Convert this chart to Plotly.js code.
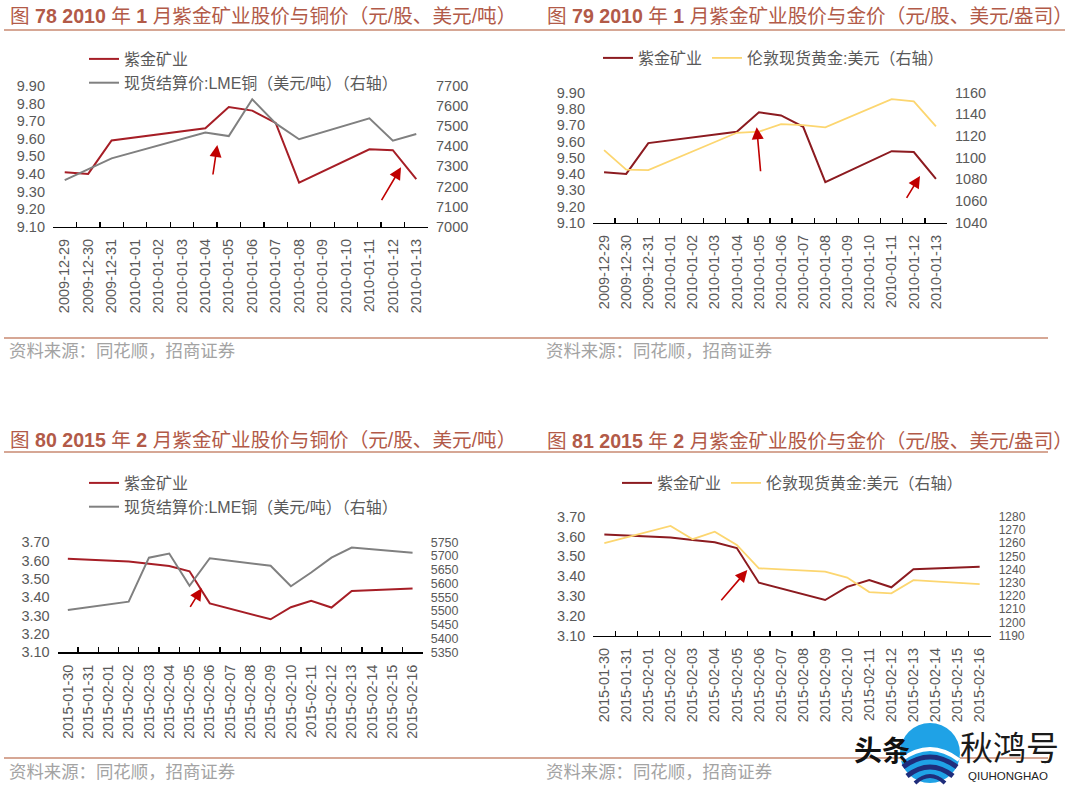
<!DOCTYPE html>
<html><head><meta charset="utf-8">
<script src="https://cdn.plot.ly/plotly-3.0.1.min.js"></script>
<style>html,body{margin:0;padding:0;background:#fff}#chart{width:1080px;height:787px}</style>
</head><body><div id="chart"></div>
<script>
// ---------- data ----------
const dates2010 = ['2009-12-29','2009-12-30','2009-12-31','2010-01-01','2010-01-02','2010-01-03','2010-01-04','2010-01-05','2010-01-06','2010-01-07','2010-01-08','2010-01-09','2010-01-10','2010-01-11','2010-01-12','2010-01-13'];
const zijin2010  = [9.41, 9.40, 9.59, null, null, null, 9.66, 9.78, 9.76, 9.69, 9.35, null, null, 9.54, 9.535, 9.37];
const copper2010 = [7232, 7288, 7340, null, null, null, 7468, 7451, 7634, 7514, 7435, null, null, 7539, 7428, 7461];
const gold2010   = [1107, 1089, 1088.6, null, null, null, 1123, 1124, 1131, 1130, 1128, null, null, 1154, 1152, 1129];

const dates2015 = ['2015-01-30','2015-01-31','2015-02-01','2015-02-02','2015-02-03','2015-02-04','2015-02-05','2015-02-06','2015-02-07','2015-02-08','2015-02-09','2015-02-10','2015-02-11','2015-02-12','2015-02-13','2015-02-14','2015-02-15','2015-02-16'];
const zijin2015  = [3.61, null, null, 3.595, 3.583, 3.571, 3.542, 3.367, null, null, 3.28, 3.346, 3.381, 3.344, 3.435, null, null, 3.448];
const copper2015 = [5504, null, null, 5534, 5694, 5709, 5592, 5692, null, null, 5665, 5590, 5640, 5694, 5731, null, null, 5712];
const gold2015   = [1260, null, null, 1273, 1263, 1268.7, 1258.6, 1241, null, null, 1238.4, 1234, 1223, 1222, 1232, null, null, 1229];

const nameZijin = '紫金矿业';
const nameCopper = '现货结算价:LME铜（美元/吨）（右轴）';
const nameGold = '伦敦现货黄金:美元（右轴）';

const titles = [
  '图 <b>78 2010</b> 年 <b>1</b> 月紫金矿业股价与铜价（元/股、美元/吨）',
  '图 <b>79 2010</b> 年 <b>1</b> 月紫金矿业股价与金价（元/股、美元/盎司）',
  '图 <b>80 2015</b> 年 <b>2</b> 月紫金矿业股价与铜价（元/股、美元/吨）',
  '图 <b>81 2015</b> 年 <b>2</b> 月紫金矿业股价与金价（元/股、美元/盎司）'
];
const sourceText = '资料来源：同花顺，招商证券';

// ---------- styling ----------
const W = 1080, H = 787;
const px = v => v / W;
const py = v => 1 - v / H;
const NUM = 'Liberation Sans, Arial, sans-serif';
const CJK = 'Liberation Sans, Noto Sans CJK SC, sans-serif';
const RED1 = '#a61e26', RED2 = '#8c1b20', GRAY = '#808080', GOLD = '#fcd670';
const TXT = '#595959';
const TITLE_C = '#b25a48', RULE_C = '#c98a72';

function line(x, y, xa, ya, name, color, legend, rank, w) {
  return {x, y, xaxis: xa, yaxis: ya, name, type: 'scatter', mode: 'lines', connectgaps: true,
    line: {color, width: w || 2}, legend, legendrank: rank, hoverinfo: 'skip'};
}
const traces = [
  line(dates2010, zijin2010, 'x', 'y', nameZijin, RED1, 'legend', 1),
  line(dates2010, copper2010, 'x', 'y2', nameCopper, GRAY, 'legend', 2),
  line(dates2010, zijin2010, 'x2', 'y3', nameZijin, RED2, 'legend2', 1),
  line(dates2010, gold2010, 'x2', 'y4', nameGold, GOLD, 'legend2', 2, 1.8),
  line(dates2015, zijin2015, 'x3', 'y5', nameZijin, RED1, 'legend3', 1),
  line(dates2015, copper2015, 'x3', 'y6', nameCopper, GRAY, 'legend3', 2),
  line(dates2015, zijin2015, 'x4', 'y7', nameZijin, RED2, 'legend4', 1),
  line(dates2015, gold2015, 'x4', 'y8', nameGold, GOLD, 'legend4', 2, 1.8)
];

function xAxis(x0, x1, cats, anchor) {
  return {domain: [px(x0), px(x1)], anchor, type: 'category', categoryorder: 'array', categoryarray: cats,
    range: [-0.5, cats.length - 0.5], tickson: 'boundaries', ticks: 'inside', ticklen: 5, tickwidth: 1.3,
    tickcolor: '#000', showline: true, linecolor: '#000', linewidth: 1.5, showgrid: false, zeroline: false,
    tickangle: -90, ticklabelstandoff: 5, tickfont: {family: NUM, size: 14.5, color: TXT}, fixedrange: true};
}
function yLeft(yTop, yBot, lo, hi, anchor) {
  const e = (hi - lo) * 1e-5;
  return {domain: [py(yBot), py(yTop)], anchor, range: [lo - e, hi + e], tick0: lo, dtick: 0.1, tickformat: '.2f',
    showgrid: false, zeroline: false, showline: false, ticks: '', ticklabelstandoff: 7,
    tickfont: {family: NUM, size: 14.5, color: TXT}, fixedrange: true};
}
function yRight(over, anchor, lo, hi, step, fs) {
  const e = (hi - lo) * 1e-5;
  return {overlaying: over, side: 'right', anchor, range: [lo - e, hi + e], tick0: lo, dtick: step,
    showgrid: false, zeroline: false, showline: false, ticks: '', ticklabelstandoff: 7,
    tickfont: {family: NUM, size: fs || 14.5, color: TXT}, fixedrange: true};
}
function legendAt(x, y, orient) {
  return {x: px(x), y: py(y), xanchor: 'left', yanchor: 'top', orientation: orient, bgcolor: 'rgba(0,0,0,0)',
    font: {family: CJK, size: 16, color: TXT}, itemclick: false, itemdoubleclick: false, tracegroupgap: 0};
}

const annotations = [];
[[8, 16], [545, 16], [8, 440], [545, 441]].forEach((p, i) => {
  annotations.push({text: titles[i], xref: 'paper', yref: 'paper', x: px(p[0]), y: py(p[1]),
    xanchor: 'left', yanchor: 'middle', showarrow: false, font: {family: CJK, size: 19.6, color: TITLE_C}});
});
[[7, 351], [544, 351], [7, 772], [544, 772]].forEach(p => {
  annotations.push({text: sourceText, xref: 'paper', yref: 'paper', x: px(p[0]), y: py(p[1]),
    xanchor: 'left', yanchor: 'middle', showarrow: false, font: {family: CJK, size: 17.4, color: '#a3a3a3'}});
});
// arrows [headX, headY, tailX, tailY]
[[217.3, 145, 212.7, 176], [401, 167.3, 380.7, 201.7], [756.7, 127.3, 760.7, 172.7], [920, 176, 905.7, 199.3],
 [201.7, 588.3, 189.3, 608.3], [747.3, 570, 720, 601.7]].forEach(a => {
  annotations.push({text: '', xref: 'paper', yref: 'paper', axref: 'paper', ayref: 'paper',
    x: px(a[0]), y: py(a[1]), ax: px(a[2]), ay: py(a[3]), showarrow: true, arrowhead: 2, arrowsize: 1.5,
    arrowwidth: 1.6, arrowcolor: '#c00000', standoff: 0, startstandoff: 0});
});
// watermark text
annotations.push({text: '<b>头条</b>', xref: 'paper', yref: 'paper', x: px(852), y: py(749), xanchor: 'left', yanchor: 'middle',
  showarrow: false, font: {family: 'Noto Sans CJK SC', size: 28, color: '#111'}});
annotations.push({text: '秋鸿号', xref: 'paper', yref: 'paper', x: px(958), y: py(746), xanchor: 'left', yanchor: 'middle',
  showarrow: false, font: {family: 'Noto Sans CJK SC', size: 33, color: '#1a1a1a'}});
annotations.push({text: 'QIUHONGHAO', xref: 'paper', yref: 'paper', x: px(966), y: py(776), xanchor: 'left', yanchor: 'middle',
  showarrow: false, font: {family: 'Liberation Sans', size: 11.5, color: '#222'}});

const shapes = [];
function rule(x0, x1, y, w) {
  shapes.push({type: 'line', xref: 'paper', yref: 'paper', x0: px(x0), x1: px(x1), y0: py(y), y1: py(y),
    line: {color: RULE_C, width: w || 1.3}});
}
rule(4, 1065, 30); rule(4, 1048, 338); rule(4, 1048, 452); rule(4, 1048, 758);
// watermark logo
shapes.push({type: 'circle', xref: 'paper', yref: 'paper', x0: px(900), x1: px(960), y0: py(783), y1: py(723),
  fillcolor: '#1fa2e6', line: {width: 0}});
function arcPath(xl, xr, yEnd, yCtl) {
  return 'M' + px(xl) + ',' + py(yEnd) + ' Q' + px((xl + xr) / 2) + ',' + py(yCtl) + ' ' + px(xr) + ',' + py(yEnd);
}
shapes.push({type: 'path', xref: 'paper', yref: 'paper', path: arcPath(901, 959, 760, 738), line: {color: '#ffffff', width: 4}});
shapes.push({type: 'path', xref: 'paper', yref: 'paper', path: arcPath(903, 957, 767, 747), line: {color: '#1f2d7b', width: 5}});
shapes.push({type: 'path', xref: 'paper', yref: 'paper', path: arcPath(907, 953, 776, 758), line: {color: '#1f2d7b', width: 5}});
shapes.push({type: 'path', xref: 'paper', yref: 'paper', path: arcPath(915, 945, 783, 769), line: {color: '#1f2d7b', width: 4}});

const layout = {
  width: W, height: H, autosize: false, margin: {l: 0, r: 0, t: 0, b: 0, pad: 0},
  paper_bgcolor: '#fff', plot_bgcolor: 'rgba(0,0,0,0)', showlegend: true, hovermode: false,
  xaxis: xAxis(53, 428, dates2010, 'y'),
  yaxis: yLeft(86, 226.7, 9.10, 9.90, 'x'),
  yaxis2: yRight('y', 'x', 7000, 7700, 100),
  xaxis2: xAxis(593, 947, dates2010, 'y3'),
  yaxis3: yLeft(92.7, 222.7, 9.10, 9.90, 'x2'),
  yaxis4: yRight('y3', 'x2', 1040, 1160, 20),
  xaxis3: xAxis(57.7, 422.7, dates2015, 'y5'),
  yaxis5: yLeft(542.3, 652.3, 3.10, 3.70, 'x3'),
  yaxis6: yRight('y5', 'x3', 5350, 5750, 50, 12.5),
  xaxis4: xAxis(593.3, 990.7, dates2015, 'y7'),
  yaxis7: yLeft(516.7, 635.7, 3.10, 3.70, 'x4'),
  yaxis8: yRight('y7', 'x4', 1190, 1280, 10, 12),
  legend: legendAt(84, 42, 'v'),
  legend2: legendAt(598, 41, 'h'),
  legend3: legendAt(84, 466, 'v'),
  legend4: legendAt(617, 466, 'h'),
  annotations, shapes
};
Plotly.newPlot('chart', traces, layout, {staticPlot: true, displayModeBar: false});
</script></body></html>
